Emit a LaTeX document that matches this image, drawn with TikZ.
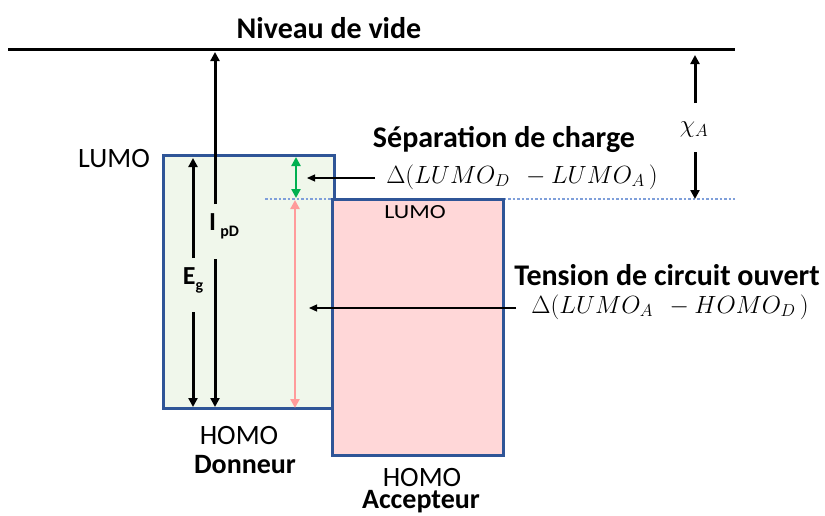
\documentclass[tikz,border=0pt]{standalone}
\usepackage{fontspec}
\setmainfont{Carlito}
\usetikzlibrary{arrows.meta}
\definecolor{boxblue}{HTML}{2F5597}
\definecolor{dfill}{HTML}{F0F7EB}
\definecolor{afill}{HTML}{FFD7D8}
\definecolor{sepgreen}{HTML}{00B050}
\definecolor{vocpink}{HTML}{FF9B9B}
\definecolor{dotblue}{HTML}{7F9FDA}
\tikzset{
  levelbox/.style={draw=boxblue, line width=3pt, inner sep=0pt, outer sep=0pt, anchor=north west},
  thick arrow/.style={line width=3pt, -{Triangle[length=9pt,width=9pt]}},
  thin arrow/.style={line width=1.2pt, -{Triangle[length=8pt,width=7pt]}},
  both arrow/.style={line width=2.6pt, {Triangle[length=9pt,width=9pt]}-{Triangle[length=9pt,width=9pt]}},
  lbl/.style={inner sep=0pt, font=\fontsize{28}{32}\selectfont},
  blbl/.style={inner sep=0pt, font=\fontsize{28}{32}\selectfont\bfseries},
  hlbl/.style={inner sep=0pt, font=\fontsize{30}{34}\selectfont\bfseries},
  mlbl/.style={inner sep=0pt, font=\fontsize{24}{28}\selectfont}
}
\begin{document}
\begin{tikzpicture}[x=1pt,y=-1pt]
\useasboundingbox (0,0) rectangle (825,515);
% vacuum level
\draw[line width=3pt] (8,49) coordinate (vl) -- (735,49) coordinate (vr);
\node[hlbl] (niveau) at (329,28) {Niveau de vide};
% boxes
\node[levelbox, fill=dfill, minimum width=171pt, minimum height=253pt] (don) at (163,155) {};
\draw[dotblue, line width=1.1pt, dash pattern=on 2.5pt off 2pt] (265,199) coordinate (dl) -- (735,199) coordinate (dr);
\node[levelbox, fill=afill, minimum width=171pt, minimum height=256pt] (acc) at (332,199) {};
% labels of levels
\node[lbl] (lumoD) at (114,159) {LUMO};
\node[inner sep=0pt, font=\fontsize{20}{24}\selectfont, xscale=1.2] (lumoA) at (415,212) {LUMO};
\node[lbl] (homoD) at (239,436) {HOMO};
\node[blbl] (donneur) at (245,465) {Donneur};
\node[lbl] (homoA) at (422,478) {HOMO};
\node[blbl] (accepteur) at (421,502) {Accepteur};
% Ip arrow
\node[inner sep=0pt, font=\fontsize{26}{30}\selectfont\bfseries] (ip) at (224,226) {I\,\raisebox{-6pt}{\fontsize{16}{18}\selectfont pD}};
\coordinate (ipt) at (215,52);
\coordinate (ipb) at (215,407);
\draw[thick arrow] (215,204) -- (ipt);
\draw[thick arrow] (215,259) -- (ipb);
% Eg arrow
\node[inner sep=0pt, font=\fontsize{26}{30}\selectfont\bfseries] (eg) at (193,280) {E\raisebox{-6pt}{\fontsize{16}{18}\selectfont g}};
\coordinate (egt) at (193,158);
\coordinate (egb) at (193,407);
\draw[thick arrow] (193,258) -- (egt);
\draw[thick arrow] (193,312) -- (egb);
% separation
\coordinate (gt) at (296,157);
\coordinate (gb) at (296,198);
\draw[both arrow, sepgreen] (gt) -- (gb);
\coordinate (pt) at (295,200);
\coordinate (pb) at (295,408);
\draw[both arrow, vocpink] (pt) -- (pb);
\node[hlbl] (sep) at (504,139) {Séparation de charge};
\node[mlbl] (dsep) at (522,177) {$\Delta(LUMO_D\ \ - LUMO_A\,)$};
\coordinate (sept) at (307,178);
\draw[thin arrow] (375,178) -- (sept);
\node[hlbl] (voc) at (667,275) {Tension de circuit ouvert};
\node[mlbl] (dvoc) at (670,307) {$\Delta(LUMO_A\ \ - HOMO_D\,)$};
\coordinate (voct) at (309,308);
\draw[thin arrow] (516,308) -- (voct);
% chi
\node[mlbl] (chi) at (694,130) {$\chi_A$};
\coordinate (chit) at (695,55);
\coordinate (chib) at (695,199);
\draw[thick arrow] (695,103) -- (chit);
\draw[thick arrow] (695,152) -- (chib);
\end{tikzpicture}
\end{document}
